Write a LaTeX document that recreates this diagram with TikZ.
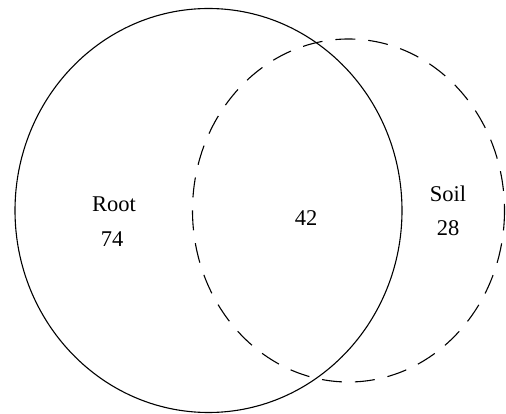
\documentclass[tikz,border=0pt]{standalone}
\usepackage{fontspec}
\setmainfont{Liberation Serif}
\begin{document}
\begin{tikzpicture}[x=1pt,y=-1pt,
  lbl/.style={font=\fontsize{22.5}{26}\selectfont, inner sep=0pt},
  setline/.style={line width=1.1pt, black}]
\useasboundingbox (0,0) rectangle (506,414);
\draw[setline] (208.5,210.5) ellipse [x radius=193.5, y radius=202];
\draw[setline, dash pattern=on 20pt off 13pt] (348.5,210.5) ellipse [x radius=156, y radius=171.5];
\node[lbl] (root) at (114,204) {Root};
\node[lbl] (rootn) at (112,239) {74};
\node[lbl] (both) at (306,218) {42};
\node[lbl] (soil) at (448,194) {Soil};
\node[lbl] (soiln) at (448,228) {28};
\end{tikzpicture}
\end{document}
